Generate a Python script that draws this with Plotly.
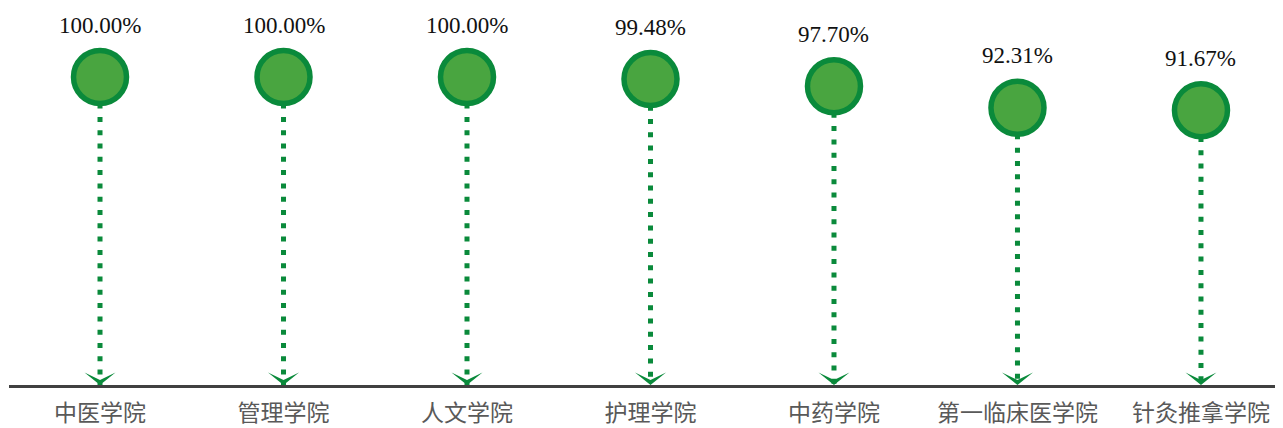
import plotly.graph_objects as go

categories = ["中医学院", "管理学院", "人文学院", "护理学院", "中药学院", "第一临床医学院", "针灸推拿学院"]
values = [100.00, 100.00, 100.00, 99.48, 97.70, 92.31, 91.67]
labels = ["100.00%", "100.00%", "100.00%", "99.48%", "97.70%", "92.31%", "91.67%"]

Y_MIN, Y_MAX = 23.0, 117.25
FILL = "#49A540"
EDGE = "#0A8A3B"

fig = go.Figure()

# dotted stems
sx, sy = [], []
for c, v in zip(categories, values):
    sx += [c, c, None]
    sy += [v, Y_MIN, None]
fig.add_trace(go.Scatter(
    x=sx, y=sy, mode="lines", hoverinfo="skip",
    line=dict(color=EDGE, width=5, dash="5px,8.3px"),
    showlegend=False, cliponaxis=False,
))

# circles
fig.add_trace(go.Scatter(
    x=categories, y=values, mode="markers",
    marker=dict(size=53, color=FILL, line=dict(color=EDGE, width=5.5)),
    showlegend=False, cliponaxis=False,
))

# value labels
for c, v, t in zip(categories, values, labels):
    fig.add_annotation(
        x=c, y=v, text=t, showarrow=False, yshift=52,
        font=dict(family="Liberation Serif", size=23, color="#111111"),
        xanchor="center", yanchor="middle",
    )

# arrowheads
for c in categories:
    fig.add_shape(
        type="path", xref="x", yref="y",
        xsizemode="pixel", ysizemode="pixel",
        xanchor=c, yanchor=Y_MIN,
        path="M0,0 L-15.5,12.5 L0,5 L15.5,12.5 Z",
        fillcolor=EDGE, line=dict(width=0), layer="above",
    )

fig.update_xaxes(
    type="category", range=[-0.496, 6.447], automargin=False,
    showgrid=False, zeroline=False,
    showline=True, linecolor="#404040", linewidth=3,
    ticks="outside", ticklen=5, tickcolor="rgba(0,0,0,0)",
    tickfont=dict(family="Noto Sans CJK SC", size=23, color="#595959"),
)
fig.update_yaxes(
    range=[Y_MIN, Y_MAX], visible=False, showgrid=False, zeroline=False,
    automargin=False,
)
fig.update_layout(
    width=1275, height=420,
    margin=dict(l=1, r=0, t=0, b=43),
    plot_bgcolor="white", paper_bgcolor="white",
)

fig.write_html("out.html")
